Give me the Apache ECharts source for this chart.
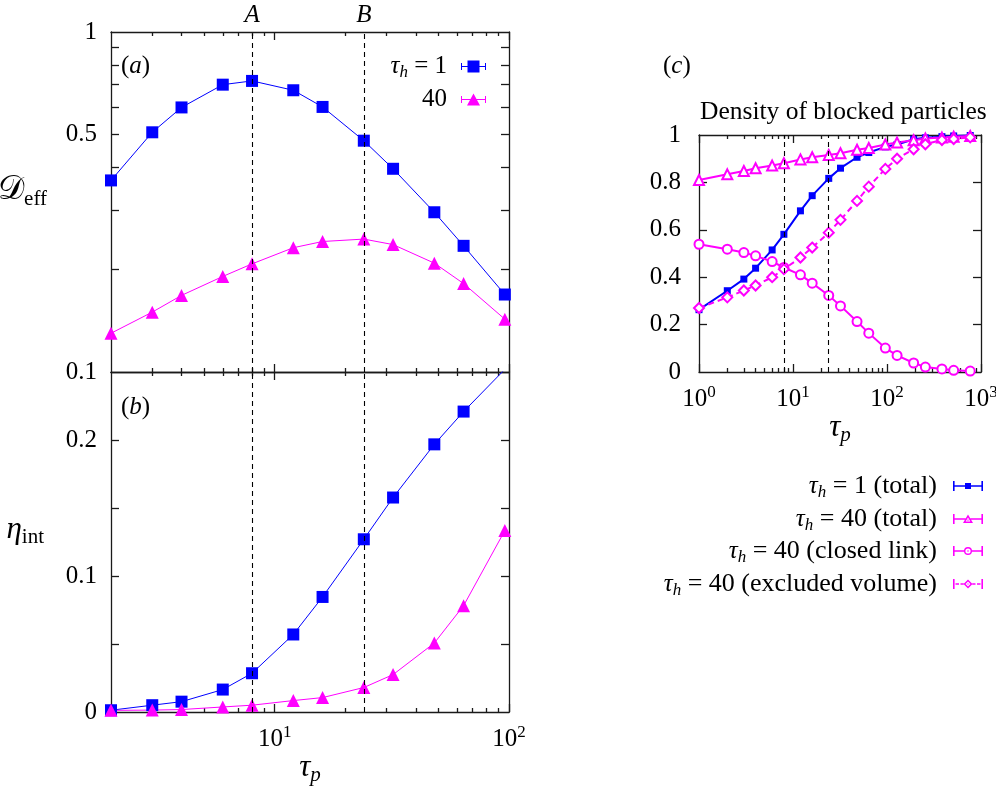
<!DOCTYPE html>
<html><head><meta charset="utf-8">
<script src="https://cdn.jsdelivr.net/npm/echarts@6/dist/echarts.min.js"></script>
<style>html,body{margin:0;padding:0;background:#fff}#c{width:996px;height:800px}</style>
</head><body><div id="c"></div>
<script>
// ---------------- data ----------------
const tauP_ab = [2, 3, 4, 6, 8, 12, 16, 24, 32, 48, 64, 96];
const deff_h1  = [0.366, 0.507, 0.600, 0.700, 0.718, 0.674, 0.602, 0.479, 0.396, 0.295, 0.235, 0.169];
const deff_h40 = [0.130, 0.150, 0.168, 0.191, 0.208, 0.232, 0.242, 0.246, 0.237, 0.209, 0.182, 0.143];
const eta_h1   = [0.0013, 0.005, 0.0076, 0.0165, 0.0285, 0.057, 0.0846, 0.127, 0.1577, 0.1968, 0.2209, 0.252];
const eta_h40  = [0.0012, 0.0014, 0.0018, 0.0037, 0.005, 0.0084, 0.0106, 0.018, 0.0275, 0.0507, 0.0782, 0.1334];

const tauP_c = [1, 2, 3, 4, 6, 8, 12, 16, 24, 32, 48, 64, 96, 128, 192, 256, 384, 512, 768];
const blocked_h1_total  = [0.263, 0.343, 0.392, 0.438, 0.515, 0.581, 0.680, 0.744, 0.817, 0.860, 0.906, 0.926, 0.950, 0.960, 0.982, 0.988, 0.993, 0.996, 0.998];
const blocked_h40_total = [0.810, 0.834, 0.848, 0.860, 0.871, 0.881, 0.897, 0.906, 0.916, 0.923, 0.938, 0.945, 0.960, 0.968, 0.978, 0.985, 0.989, 0.993, 0.996];
const blocked_h40_closed = [0.539, 0.518, 0.504, 0.490, 0.466, 0.441, 0.410, 0.375, 0.323, 0.279, 0.213, 0.164, 0.101, 0.070, 0.038, 0.021, 0.013, 0.007, 0.004];
const blocked_h40_excl  = [0.270, 0.315, 0.344, 0.365, 0.400, 0.434, 0.483, 0.525, 0.588, 0.642, 0.722, 0.782, 0.857, 0.900, 0.940, 0.961, 0.979, 0.983, 0.990];

const markTauP  = [8, 24];
const markNames = ['A', 'B'];

// tick / label values
const xMinor_ab = [3, 4, 5, 6, 7, 8, 9, 20, 30, 40, 50, 60, 70, 80, 90];
const xMajor_ab = [10, 100];
const xMinor_c  = [2, 3, 4, 5, 6, 7, 8, 9, 20, 30, 40, 50, 60, 70, 80, 90, 200, 300, 400, 500, 600, 700, 800, 900];
const xMajor_c  = [1, 10, 100, 1000];
const yTicksA   = [0.2, 0.3, 0.4, 0.5, 0.6, 0.7, 0.8, 0.9];
const yLabelsA  = [0.1, 0.5, 1];
const yTicksB   = [0.05, 0.1, 0.15, 0.2];
const yLabelsB  = [0, 0.1, 0.2];
const yTicksC   = [0.2, 0.4, 0.6, 0.8];
const yLabelsC  = [0, 0.2, 0.4, 0.6, 0.8, 1];

// ---------------- styles ----------------
const BLUE = '#0000ff', MAG = '#ff00ff';
const FONT = "'Liberation Serif', 'Times New Roman', serif";
const FS = 25;
const RICH = {
  n:   {fontFamily: FONT, fontSize: FS, color: '#000', lineHeight: 30},
  i:   {fontFamily: FONT, fontSize: FS, fontStyle: 'italic', color: '#000', lineHeight: 30},
  s:   {fontFamily: FONT, fontSize: 17, fontStyle: 'italic', color: '#000', lineHeight: 14, verticalAlign: 'bottom'},
  sr:  {fontFamily: FONT, fontSize: 17, color: '#000', lineHeight: 14, verticalAlign: 'bottom'},
  ln:  {fontFamily: FONT, fontSize: 26, color: '#000', lineHeight: 30},
  b:   {fontFamily: FONT, fontSize: FS, color: '#000', lineHeight: 30},
  e:   {fontFamily: FONT, fontSize: 17, color: '#000', lineHeight: 18, verticalAlign: 'top'},
  I:   {fontFamily: FONT, fontSize: 31, fontStyle: 'italic', color: '#000', lineHeight: 36},
  S:   {fontFamily: FONT, fontSize: 21, fontStyle: 'italic', color: '#000', lineHeight: 16, verticalAlign: 'bottom'},
  SR:  {fontFamily: FONT, fontSize: 21, color: '#000', lineHeight: 16, verticalAlign: 'bottom'},
  cal: {fontFamily: "'DejaVu Serif', 'DejaVu Sans', 'Noto Sans', serif", fontSize: 33, color: '#000', lineHeight: 40}
};
const AX = {color: '#1a1a1a', width: 1.3};
const zip = (xs, ys) => xs.map((x, k) => [x, ys[k]]);
const powLabel = v => '{b|10}{e|' + Math.round(Math.log10(v)) + '}';

function xAxisDef(gridIndex, position, min, max, ticks, len, showLine, labels, name, nameGap) {
  return {
    type: 'log', logBase: 10, gridIndex, position, min, max,
    axisLine: {show: showLine, onZero: false, lineStyle: AX},
    axisTick: {show: true, inside: true, length: len, customValues: ticks, lineStyle: AX},
    axisLabel: labels ? {show: true, customValues: labels, margin: 12, formatter: powLabel, rich: RICH} : {show: false},
    splitLine: {show: false}, minorTick: {show: false}, minorSplitLine: {show: false},
    name: name || '', nameLocation: 'middle', nameGap: nameGap || 0,
    nameTextStyle: {rich: RICH}
  };
}
function xGroup(gridIndex, min, max, minor, major, labels, name, nameGap) {
  return [
    xAxisDef(gridIndex, 'bottom', min, max, minor, 4, true, labels, name, nameGap),
    xAxisDef(gridIndex, 'bottom', min, max, major, 8, false, null),
    xAxisDef(gridIndex, 'top', min, max, minor, 4, true, null),
    xAxisDef(gridIndex, 'top', min, max, major, 8, false, null)
  ];
}
function yAxisDef(gridIndex, position, type, min, max, ticks, labels, fmt, margin, name, nameGap, namePad) {
  return {
    type, gridIndex, position, min, max,
    axisLine: {show: true, onZero: false, lineStyle: AX},
    axisTick: {show: true, inside: true, length: 8, customValues: ticks, lineStyle: AX},
    axisLabel: labels ? {show: true, customValues: labels, margin: margin, formatter: fmt,
      fontFamily: FONT, fontSize: FS, color: '#000'} : {show: false},
    splitLine: {show: false}, minorTick: {show: false},
    name: name || '', nameLocation: 'middle', nameGap: nameGap || 0, nameRotate: 0,
    nameTextStyle: {rich: RICH, padding: namePad || 0}
  };
}
const numFmt = v => String(+(+v).toFixed(2));

const xAxes = [].concat(
  xGroup(0, 2, 100, xMinor_ab, xMajor_ab, null),
  xGroup(1, 2, 100, xMinor_ab, xMajor_ab, xMajor_ab, '{I|τ}{S|p}', 36),
  xGroup(2, 1, 1000, xMinor_c, xMajor_c, xMajor_c, '{I|τ}{S|p}', 19)
);
const yAxes = [
  yAxisDef(0, 'left', 'log', 0.1, 1, yTicksA, yLabelsA, numFmt, 14, '{cal|𝒟}{SR|eff}', 64, [0, 0, 24, 0]),
  yAxisDef(0, 'right', 'log', 0.1, 1, yTicksA, null),
  yAxisDef(1, 'left', 'value', 0, 0.25, yTicksB, yLabelsB, numFmt, 14, '{I|η}{SR|int}', 67, [0, 0, 24, 0]),
  yAxisDef(1, 'right', 'value', 0, 0.25, yTicksB, null),
  yAxisDef(2, 'left', 'value', 0, 1, yTicksC, yLabelsC, numFmt, 18),
  yAxisDef(2, 'right', 'value', 0, 1, yTicksC, null)
];

function markLines(withLabel) {
  return {
    silent: true, symbol: ['none', 'none'], animation: false,
    lineStyle: {type: [5, 4], color: '#000', width: 1.1},
    label: withLabel ? {show: true, position: 'end', formatter: '{b}', distance: 4,
      fontFamily: FONT, fontStyle: 'italic', fontSize: FS, color: '#000'} : {show: false},
    emphasis: {disabled: true},
    data: markTauP.map((x, k) => ({xAxis: x, name: markNames[k]}))
  };
}

function abSeries(name, xi, yi, ys, color, symbol, size, ml) {
  const s = {
    type: 'line', name, xAxisIndex: xi, yAxisIndex: yi, data: zip(tauP_ab, ys),
    symbol, symbolSize: size, showSymbol: true, clip: true,
    lineStyle: {color, width: 1}, itemStyle: {color, borderWidth: 0},
    emphasis: {disabled: true}, z: 3
  };
  if (ml) s.markLine = ml;
  return s;
}

const series = [
  abSeries('h1', 0, 0, deff_h1, BLUE, 'rect', 12, markLines(true)),
  abSeries('h40', 0, 0, deff_h40, MAG, 'triangle', 13),
  abSeries('h1', 4, 2, eta_h1, BLUE, 'rect', 12, markLines(false)),
  abSeries('h40', 4, 2, eta_h40, MAG, 'triangle', 13),
  {type: 'line', name: 'c1', xAxisIndex: 8, yAxisIndex: 4, data: zip(tauP_c, blocked_h1_total),
   symbol: 'rect', symbolSize: 7, lineStyle: {color: BLUE, width: 2}, itemStyle: {color: BLUE},
   emphasis: {disabled: true}, markLine: markLines(false)},
  {type: 'line', name: 'c2', xAxisIndex: 8, yAxisIndex: 4, data: zip(tauP_c, blocked_h40_total),
   symbol: 'emptyTriangle', symbolSize: 10, lineStyle: {color: MAG, width: 2}, itemStyle: {color: MAG, borderWidth: 1.6},
   emphasis: {disabled: true}},
  {type: 'line', name: 'c3', xAxisIndex: 8, yAxisIndex: 4, data: zip(tauP_c, blocked_h40_closed),
   symbol: 'emptyCircle', symbolSize: 9, lineStyle: {color: MAG, width: 2}, itemStyle: {color: MAG, borderWidth: 1.6},
   emphasis: {disabled: true}},
  {type: 'line', name: 'c4', xAxisIndex: 8, yAxisIndex: 4, data: zip(tauP_c, blocked_h40_excl),
   symbol: 'emptyDiamond', symbolSize: 10, lineStyle: {color: MAG, width: 2, type: [6, 4]}, itemStyle: {color: MAG, borderWidth: 1.6},
   emphasis: {disabled: true}}
];

// legend icons (error-bar style)
const ICON_SQ_A  = 'path://M0,5.5H25V6.5H0Z M0,2.5H1V9.5H0Z M24,2.5H25V9.5H24Z M6.5,0H18.5V12H6.5Z';
const ICON_TRI_A = 'path://M0,5.5H25V6.5H0Z M0,2.5H1V9.5H0Z M24,2.5H25V9.5H24Z M12.5,0L19,12H6Z';
const CAPS = 'M0,0H1.6V10H0Z M28.4,0H30V10H28.4Z ';
const ICON_SQ_C   = 'path://' + CAPS + 'M0,4.2H30V5.8H0Z M12,2H18V8H12Z';
const ICON_TRI_C  = 'path://' + CAPS + 'M0,4.2H12.5V5.8H0Z M17.5,4.2H30V5.8H17.5Z M15,0.5L20,9L10,9Z M15,3.6L12.7,7.6L17.3,7.6Z M14.4,5.6H15.6V6.8H14.4Z';
const ICON_CIR_C  = 'path://' + CAPS + 'M0,4.2H11.2V5.8H0Z M18.8,4.2H30V5.8H18.8Z M15,1A4,4 0 1,1 15,9A4,4 0 1,1 15,1Z M15,2.4A2.6,2.6 0 1,0 15,7.6A2.6,2.6 0 1,0 15,2.4Z M15,4.2A0.8,0.8 0 1,1 15,5.8A0.8,0.8 0 1,1 15,4.2Z';
const ICON_DIA_C  = 'path://' + CAPS + 'M2.5,4.2H6V5.8H2.5Z M7.5,4.2H10.7V5.8H7.5Z M19.3,4.2H22.5V5.8H19.3Z M24,4.2H27.5V5.8H24Z M15,0.5L19.5,5L15,9.5L10.5,5Z M15,2.6L12.6,5L15,7.4L17.4,5Z M14.4,4.4H15.6V5.6H14.4Z';

function legendDef(name, icon, text, right, top, w, h, gap) {
  return {
    data: [{name, icon}], right, top, orient: 'vertical', align: 'right', padding: 0,
    itemWidth: w, itemHeight: h, selectedMode: false, itemStyle: {borderWidth: 0},
    formatter: () => text,
    textStyle: {rich: RICH, padding: [0, gap, 0, 0]}
  };
}
const legends = [
  legendDef('h1', ICON_SQ_A, '{i|τ}{s|h}{n| = 1}', 510, 54, 25, 12, 9),
  legendDef('h40', ICON_TRI_A, '{n|40}', 510, 87, 25, 12, 9),
  legendDef('c1', ICON_SQ_C, '{i|τ}{s|h}{ln| = 1 (total)}', 13, 473, 30, 10, 11),
  legendDef('c2', ICON_TRI_C, '{i|τ}{s|h}{ln| = 40 (total)}', 13, 506, 30, 10, 11),
  legendDef('c3', ICON_CIR_C, '{i|τ}{s|h}{ln| = 40 (closed link)}', 13, 538, 30, 10, 11),
  legendDef('c4', ICON_DIA_C, '{i|τ}{s|h}{ln| = 40 (excluded volume)}', 13, 571, 30, 10, 11)
];

const graphics = [
  {type: 'text', left: 121, top: 54, style: {text: '{n|(}{i|a}{n|)}', rich: RICH}},
  {type: 'text', left: 121, top: 395, style: {text: '{n|(}{i|b}{n|)}', rich: RICH}},
  {type: 'text', left: 663, top: 54, style: {text: '{n|(}{i|c}{n|)}', rich: RICH}},
  {type: 'text', left: 700, top: 99, style: {text: 'Density of blocked particles', fontFamily: FONT, fontSize: 25.5, fill: '#000'}}
];

const chart = echarts.init(document.getElementById('c'), null, {renderer: 'canvas'});
chart.setOption({
  animation: false,
  backgroundColor: '#fff',
  grid: [
    {left: 111, top: 32, width: 398, height: 340, containLabel: false, outerBoundsMode: 'none'},
    {left: 111, top: 372, width: 398, height: 340, containLabel: false, outerBoundsMode: 'none'},
    {left: 699, top: 135, width: 282, height: 237, containLabel: false, outerBoundsMode: 'none'}
  ],
  xAxis: xAxes,
  yAxis: yAxes,
  legend: legends,
  graphic: graphics,
  series
});
</script>
</body></html>
